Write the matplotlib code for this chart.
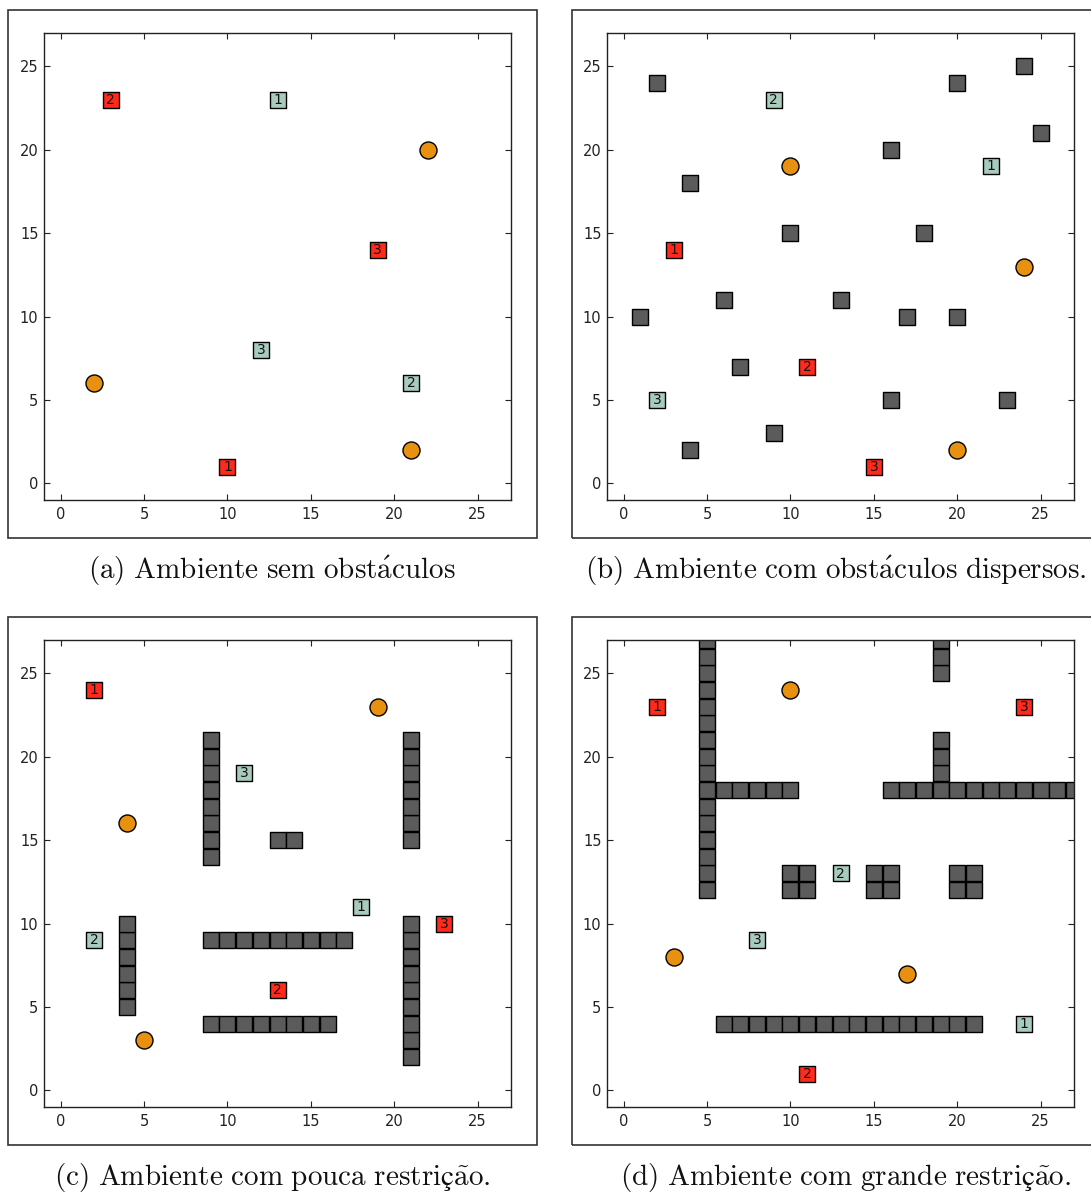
import matplotlib
matplotlib.use("Agg")
import matplotlib.pyplot as plt
from matplotlib.patches import Rectangle

plt.rcParams["mathtext.fontset"] = "cm"

W, H = 1091, 1194
DPI = 100

# ---------------- data ----------------
captions = [r"$\mathrm{(a)\ Ambiente\ sem\ obst\acute{a}culos}$",
            r"$\mathrm{(b)\ Ambiente\ com\ obst\acute{a}culos\ dispersos.}$",
            r"$\mathrm{(c)\ Ambiente\ com\ pouca\ restriç\tilde{a}o.}$",
            r"$\mathrm{(d)\ Ambiente\ com\ grande\ restriç\tilde{a}o.}$"]
ticks = [0, 5, 10, 15, 20, 25]

# panel (a)
a_red_x = [10, 3, 19]; a_red_y = [1, 23, 14]; a_red_lbl = ["1", "2", "3"]
a_grn_x = [13, 21, 12]; a_grn_y = [23, 6, 8]; a_grn_lbl = ["1", "2", "3"]
a_cir_x = [22, 2, 21]; a_cir_y = [20, 6, 2]
a_obs_x = []; a_obs_y = []

# panel (b)
b_red_x = [3, 11, 15]; b_red_y = [14, 7, 1]; b_red_lbl = ["1", "2", "3"]
b_grn_x = [22, 9, 2]; b_grn_y = [19, 23, 5]; b_grn_lbl = ["1", "2", "3"]
b_cir_x = [10, 24, 20]; b_cir_y = [19, 13, 2]
b_obs_x = [2, 4, 20, 24, 25, 16, 10, 18, 6, 13, 1, 17, 20, 7, 16, 23, 4, 9]
b_obs_y = [24, 18, 24, 25, 21, 20, 15, 15, 11, 11, 10, 10, 10, 7, 5, 5, 2, 3]

# panel (c)
c_red_x = [2, 13, 23]; c_red_y = [24, 6, 10]; c_red_lbl = ["1", "2", "3"]
c_grn_x = [18, 2, 11]; c_grn_y = [11, 9, 19]; c_grn_lbl = ["1", "2", "3"]
c_cir_x = [19, 4, 5]; c_cir_y = [23, 16, 3]
c_obs_x = [9, 9, 9, 9, 9, 9, 9, 9,
           21, 21, 21, 21, 21, 21, 21,
           13, 14,
           4, 4, 4, 4, 4, 4,
           9, 10, 11, 12, 13, 14, 15, 16, 17,
           9, 10, 11, 12, 13, 14, 15, 16,
           21, 21, 21, 21, 21, 21, 21, 21, 21]
c_obs_y = [14, 15, 16, 17, 18, 19, 20, 21,
           15, 16, 17, 18, 19, 20, 21,
           15, 15,
           5, 6, 7, 8, 9, 10,
           9, 9, 9, 9, 9, 9, 9, 9, 9,
           4, 4, 4, 4, 4, 4, 4, 4,
           2, 3, 4, 5, 6, 7, 8, 9, 10]

# panel (d)
d_red_x = [2, 11, 24]; d_red_y = [23, 1, 23]; d_red_lbl = ["1", "2", "3"]
d_grn_x = [24, 13, 8]; d_grn_y = [4, 13, 9]; d_grn_lbl = ["1", "2", "3"]
d_cir_x = [10, 3, 17]; d_cir_y = [24, 8, 7]
d_obs_x = [5, 5, 5, 5, 5, 5, 5, 5, 5, 5, 5, 5, 5, 5, 5, 5,
           6, 7, 8, 9, 10,
           19, 19, 19,
           19, 19, 19,
           16, 17, 18, 19, 20, 21, 22, 23, 24, 25, 26, 27,
           10, 11, 10, 11, 15, 16, 15, 16, 20, 21, 20, 21,
           6, 7, 8, 9, 10, 11, 12, 13, 14, 15, 16, 17, 18, 19, 20, 21]
d_obs_y = [12, 13, 14, 15, 16, 17, 18, 19, 20, 21, 22, 23, 24, 25, 26, 27,
           18, 18, 18, 18, 18,
           25, 26, 27,
           19, 20, 21,
           18, 18, 18, 18, 18, 18, 18, 18, 18, 18, 18, 18,
           12, 12, 13, 13, 12, 12, 13, 13, 12, 12, 13, 13,
           4, 4, 4, 4, 4, 4, 4, 4, 4, 4, 4, 4, 4, 4, 4, 4]

panels = [
    (a_red_x, a_red_y, a_red_lbl, a_grn_x, a_grn_y, a_grn_lbl, a_cir_x, a_cir_y, a_obs_x, a_obs_y),
    (b_red_x, b_red_y, b_red_lbl, b_grn_x, b_grn_y, b_grn_lbl, b_cir_x, b_cir_y, b_obs_x, b_obs_y),
    (c_red_x, c_red_y, c_red_lbl, c_grn_x, c_grn_y, c_grn_lbl, c_cir_x, c_cir_y, c_obs_x, c_obs_y),
    (d_red_x, d_red_y, d_red_lbl, d_grn_x, d_grn_y, d_grn_lbl, d_cir_x, d_cir_y, d_obs_x, d_obs_y),
]

# ---------------- style ----------------
RED = "#ff2a1c"
GREEN = "#a9cbbd"
GRAY = "#5b5b5b"
ORANGE = "#e8900f"
FRAME = "#333333"

fig = plt.figure(figsize=(W / DPI, H / DPI), dpi=DPI)

# pixel geometry: (axes left, axes top), frame (left, top, right, bottom), caption center
ax_px = [(44, 33), (607, 33), (44, 640), (607, 640)]
AX_SIZE = 467
frames = [(8, 10, 537, 538), (572, 10, 1101, 538), (8, 617, 537, 1145), (572, 617, 1101, 1145)]
cap_pos = [(272, 571), (836, 571), (272, 1178), (846, 1178)]

SQ = 148   # square marker area (pt^2)
CI = 150

for i, p in enumerate(panels):
    rx, ry, rl, gx, gy, gl, cx, cy, ox, oy = p
    fl, ft, fr, fb = frames[i]
    fig.patches.append(Rectangle((fl / W, 1 - fb / H), (fr - fl) / W, (fb - ft) / H,
                                 transform=fig.transFigure, fill=False,
                                 edgecolor=FRAME, linewidth=1.2, figure=fig))
    l, t = ax_px[i]
    ax = fig.add_axes([l / W, 1 - (t + AX_SIZE) / H, AX_SIZE / W, AX_SIZE / H])
    ax.set_xlim(-1, 27)
    ax.set_ylim(-1, 27)
    ax.set_xticks(ticks)
    ax.set_yticks(ticks)
    ax.tick_params(direction="in", length=4, width=0.8, top=True, right=True,
                   labelsize=10.5, colors="#222222")
    ax.tick_params(axis="x", pad=5)
    ax.tick_params(axis="y", pad=4)
    for s in ax.spines.values():
        s.set_linewidth(1.0)
        s.set_color("#222222")

    if ox:
        ax.scatter(ox, oy, s=SQ, marker="s", c=GRAY, edgecolors="black",
                   linewidths=1.0, zorder=2)
    ax.scatter(rx, ry, s=SQ * 0.92, marker="s", c=RED, edgecolors="black",
               linewidths=1.0, zorder=3)
    ax.scatter(gx, gy, s=SQ * 0.92, marker="s", c=GREEN, edgecolors="black",
               linewidths=1.0, zorder=3)
    for x, y, t_ in zip(rx, ry, rl):
        ax.text(x, y, t_, ha="center", va="center", fontsize=10, color="#111111", zorder=4)
    for x, y, t_ in zip(gx, gy, gl):
        ax.text(x, y, t_, ha="center", va="center", fontsize=10, color="#111111", zorder=4)
    ax.scatter(cx, cy, s=CI, marker="o", c=ORANGE, edgecolors="black",
               linewidths=1.0, zorder=3)

    cxp, cyp = cap_pos[i]
    fig.text(cxp / W, 1 - cyp / H, captions[i], ha="center", va="center",
             fontsize=21, color="#111111")

fig.savefig("out.png", dpi=DPI)
